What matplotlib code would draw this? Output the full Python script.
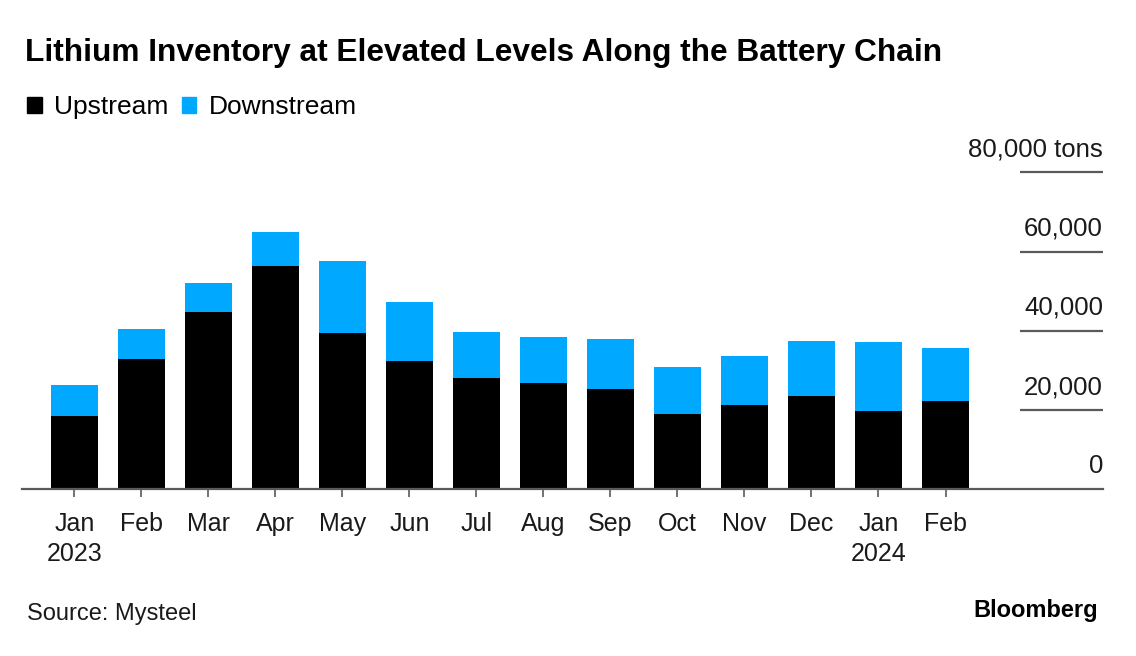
import matplotlib.pyplot as plt
from matplotlib.patches import Patch

plt.rcParams['font.family'] = ['Liberation Sans', 'DejaVu Sans']

months = ["Jan\n2023", "Feb", "Mar", "Apr", "May", "Jun", "Jul", "Aug",
          "Sep", "Oct", "Nov", "Dec", "Jan\n2024", "Feb"]
upstream = [18500, 32800, 44700, 56400, 39400, 32300, 28100, 26800,
            25200, 18900, 21300, 23500, 19700, 22400]
downstream = [7800, 7700, 7400, 8500, 18100, 15000, 11500, 11700,
              12700, 11900, 12300, 14000, 17500, 13300]
yticks = [0, 20000, 40000, 60000, 80000]
ytick_labels = ["0", "20,000", "40,000", "60,000", "80,000 tons"]

black = "#000000"
blue = "#00A9FF"
grey = "#5a5a5a"

fig = plt.figure(figsize=(11.36, 6.56), dpi=100)
ax = fig.add_axes([22 / 1136, 1 - 489.3 / 656, (1103 - 22) / 1136, (489.3 - 172.3) / 656])

x = list(range(len(months)))
ax.bar(x, upstream, width=0.7, color=black)
ax.bar(x, downstream, width=0.7, bottom=upstream, color=blue)

ax.set_xlim(-0.78, 15.35)
ax.set_ylim(0, 80000)

# short gridlines on the right, labels sit above them
ax.hlines(yticks[1:], 14.11, 15.35, color=grey, lw=1.6, clip_on=False)
for v, lab in zip(yticks, ytick_labels):
    ax.annotate(lab, xy=(15.35, v), xytext=(0, 11.5), textcoords="offset points",
                ha="right", va="baseline", fontsize=18.5, color="#1a1a1a")

for s in ["top", "right", "left"]:
    ax.spines[s].set_visible(False)
ax.spines["bottom"].set_color(grey)
ax.spines["bottom"].set_linewidth(1.6)

ax.set_yticks([])
ax.set_xticks(x)
ax.set_xticklabels(months, fontsize=18, color="#1a1a1a", linespacing=1.35)
ax.tick_params(axis="x", length=6, width=1.2, color=grey, pad=10)

fig.text(25 / 1136, 1 - 53 / 656, "Lithium Inventory at Elevated Levels Along the Battery Chain",
         fontsize=22.8, fontweight="bold", va="center", ha="left")

handles = [Patch(color=black, label="Upstream"), Patch(color=blue, label="Downstream")]
fig.legend(handles=handles, loc="center left", bbox_to_anchor=(27 / 1136, 1 - 107 / 656),
           ncol=2, frameon=False, fontsize=19, handlelength=0.55, handleheight=0.55,
           handletextpad=0.48, columnspacing=0.5, borderpad=0, borderaxespad=0)

fig.text(27 / 1136, 1 - 614 / 656, "Source: Mysteel", fontsize=17, va="center", ha="left",
         color="#1a1a1a")
fig.text(1098 / 1136, 1 - 611 / 656, "Bloomberg", fontsize=17, fontweight="bold",
         va="center", ha="right")

fig.savefig("out.png", dpi=100)
